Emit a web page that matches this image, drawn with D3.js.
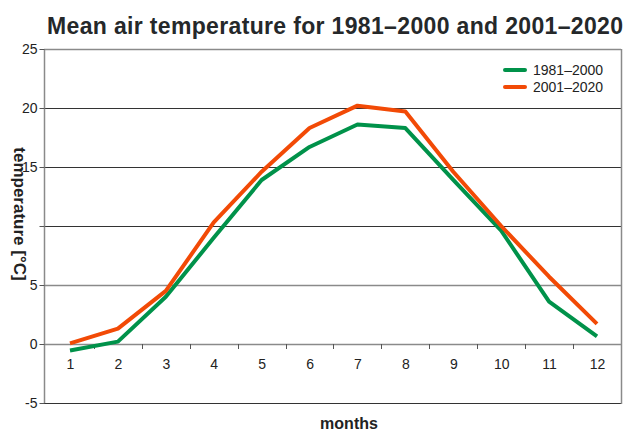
<!DOCTYPE html>
<html>
<head>
<meta charset="utf-8">
<script src="https://cdn.jsdelivr.net/npm/d3@7"></script>
<style>
  body { margin: 0; background: #fff; }
  svg { font-family: "Liberation Sans", Arial, sans-serif; }
</style>
</head>
<body>
<div id="plot"></div>
<script>
// Data
var months = [1, 2, 3, 4, 5, 6, 7, 8, 9, 10, 11, 12];
var temp1981 = [-0.55, 0.2, 4.0, 9.0, 13.9, 16.7, 18.6, 18.3, 13.9, 9.6, 3.6, 0.65];
var temp2001 = [0.05, 1.3, 4.5, 10.3, 14.6, 18.3, 20.2, 19.7, 14.6, 10.0, 5.7, 1.7];
var yTicks = [-5, 0, 5, 10, 15, 20, 25];
var yLabels = ["-5", "0", "5", "", "15", "20", "25"];
var seriesNames = ["1981–2000", "2001–2020"];
var seriesColors = ["#00924a", "#f24a06"];

// Dimensions
var W = 632, H = 434;
var pLeft = 44, pRight = 621, pTop = 49, pBottom = 403;

var svg = d3.select("#plot")
    .append("svg")
        .attr("width", W)
        .attr("height", H);

// Scales
var x = d3.scalePoint()
    .domain(months)
    .range([70, 597]);
var y = d3.scaleLinear()
    .domain([-5, 25])
    .range([pBottom, pTop]);

// Horizontal grid lines
var darkLines = [-5, 10, 15, 20];
svg.append("g")
    .selectAll("line")
    .data(yTicks)
    .enter().append("line")
        .attr("x1", pLeft)
        .attr("x2", pRight)
        .attr("y1", function(d) { return Math.round(y(d)) + 0.5; })
        .attr("y2", function(d) { return Math.round(y(d)) + 0.5; })
        .attr("stroke", function(d) { return darkLines.indexOf(d) >= 0 ? "#333" : "#8a8a8a"; })
        .attr("stroke-width", function(d) { return darkLines.indexOf(d) >= 0 ? 1 : 1.5; });

// Left / right borders
svg.append("line")
    .attr("x1", pLeft + 0.5).attr("x2", pLeft + 0.5)
    .attr("y1", pTop).attr("y2", pBottom)
    .attr("stroke", "#8a8a8a").attr("stroke-width", 1.5);
svg.append("line")
    .attr("x1", pRight + 0.5).attr("x2", pRight + 0.5)
    .attr("y1", pTop).attr("y2", pBottom + 1)
    .attr("stroke", "#8a8a8a").attr("stroke-width", 1.5);

// Y axis
var yAxis = d3.axisLeft(y)
    .tickValues(yTicks)
    .tickSize(5)
    .tickPadding(2)
    .tickFormat(function(d, i) { return yLabels[i]; });
var gy = svg.append("g")
    .attr("transform", "translate(" + (pLeft + 0.5) + ",0)")
    .call(yAxis);
gy.select(".domain").remove();
gy.selectAll("line").attr("stroke", "#555");
gy.selectAll("text")
    .style("font-size", "14px")
    .attr("fill", "#222");

// X axis on the zero line, ticks between categories
var step = x.step();
var between = months.slice(0, 11).map(function(m) { return x(m) + step / 2; });
svg.append("g")
    .selectAll("line")
    .data(between)
    .enter().append("line")
        .attr("x1", function(d) { return Math.round(d) + 0.5; })
        .attr("x2", function(d) { return Math.round(d) + 0.5; })
        .attr("y1", y(0))
        .attr("y2", y(0) + 5)
        .attr("stroke", "#555");
var xAxis = d3.axisBottom(x).tickSize(0).tickPadding(15);
var gx = svg.append("g")
    .attr("transform", "translate(0," + y(0) + ")")
    .call(xAxis);
gx.select(".domain").remove();
gx.selectAll("text")
    .style("font-size", "14px")
    .attr("fill", "#222");

// Lines
var line = d3.line()
    .x(function(d, i) { return x(months[i]); })
    .y(function(d) { return y(d); });
[temp1981, temp2001].forEach(function(s, i) {
    svg.append("path")
        .datum(s)
        .attr("fill", "none")
        .attr("stroke", seriesColors[i])
        .attr("stroke-width", 4)
        .attr("stroke-linejoin", "round")
        .attr("d", line);
});

// Legend
var legend = svg.append("g")
    .selectAll("g")
    .data(seriesNames)
    .enter().append("g")
        .attr("transform", function(d, i) { return "translate(505," + (70 + i * 17) + ")"; });
legend.append("line")
    .attr("x1", 0).attr("x2", 20)
    .attr("stroke", function(d, i) { return seriesColors[i]; })
    .attr("stroke-width", 4)
    .attr("stroke-linecap", "round");
legend.append("text")
    .attr("x", 28)
    .attr("dy", "0.35em")
    .style("font-size", "14px")
    .attr("fill", "#222")
    .text(function(d) { return d; });

// Titles
svg.append("text")
    .attr("x", 47)
    .attr("y", 34)
    .attr("textLength", 576)
    .attr("lengthAdjust", "spacing")
    .style("font-size", "23px")
    .style("font-weight", "bold")
    .attr("fill", "#25282a")
    .text("Mean air temperature for 1981–2000 and 2001–2020");
svg.append("text")
    .attr("transform", "rotate(90)")
    .attr("x", 214)
    .attr("y", -14)
    .attr("text-anchor", "middle")
    .style("font-size", "17px")
    .style("font-weight", "bold")
    .attr("fill", "#222")
    .text("temperature [°C]");
svg.append("text")
    .attr("x", 349)
    .attr("y", 429)
    .attr("text-anchor", "middle")
    .style("font-size", "16px")
    .style("font-weight", "bold")
    .attr("fill", "#222")
    .text("months");
</script>
</body>
</html>
